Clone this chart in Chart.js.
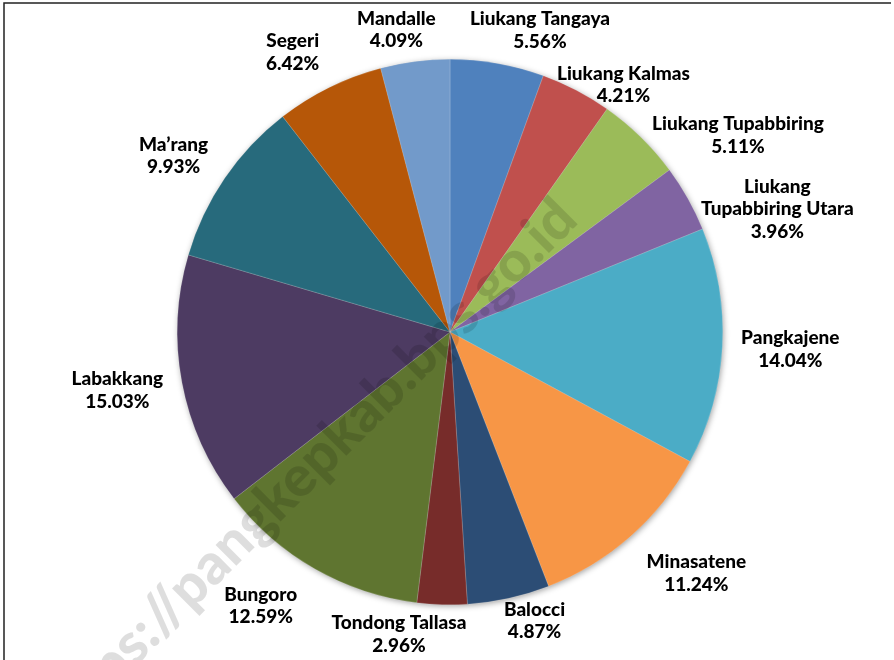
<!DOCTYPE html>
<html>
<head>
<meta charset="utf-8">
<script src="https://cdn.jsdelivr.net/npm/chart.js@4.4.1/dist/chart.umd.min.js"></script>
<style>
  html, body { margin: 0; padding: 0; background: #fff; }
  #wrap { width: 894px; height: 660px; position: relative; }
</style>
</head>
<body>
<div id="wrap"><canvas id="pieChart"></canvas></div>
<script>
// data, clockwise from 12 o'clock
const kecamatan = [
  'Liukang Tangaya',
  'Liukang Kalmas',
  'Liukang Tupabbiring',
  'Liukang\nTupabbiring Utara',
  'Pangkajene',
  'Minasatene',
  'Balocci',
  'Tondong Tallasa',
  'Bungoro',
  'Labakkang',
  'Ma’rang',
  'Segeri',
  'Mandalle'
];
const persen = [5.56, 4.21, 5.11, 3.96, 14.04, 11.24, 4.87, 2.96, 12.59, 15.03, 9.93, 6.42, 4.09];
const watermarkText = 'https://pangkepkab.bps.go.id';

//-----------------------------------------------
const warna = [
  '#4F81BD', '#C0504D', '#9BBB59', '#8064A2', '#4BACC6', '#F79646',
  '#2C4D75', '#772C2A', '#5F7530', '#4D3B62', '#276A7C', '#B65708', '#729ACA'
];
// label nudge: [angle shift in degrees, gap outside the pie in px]
const labelNudge = [
  [6.6, 42], [7.5, 29], [11.3, 76], [8.7, 77], [-0.2, 68], [-4.2, 72],
  [-3.9, 28], [7.9, 34], [5.0, 60], [0.7, 65], [-1.8, 55], [-3.1, 48], [-2.7, 34]
];
const FONT = '900 19px Lato';
const LINE_H = 22.5;

//-----------------------------------------------
const framePlugin = {
  id: 'frame',
  beforeDraw(chart) {
    const c = chart.ctx;
    c.save();
    c.fillStyle = '#fff';
    c.fillRect(0, 0, chart.width, chart.height);
    c.strokeStyle = '#222';
    c.lineWidth = 1.5;
    c.beginPath();
    c.moveTo(4, chart.height);
    c.lineTo(4, 3);
    c.lineTo(891, 3);
    c.stroke();
    c.restore();
  }
};

const shadowPlugin = {
  id: 'pieShadow',
  beforeDatasetsDraw(chart) {
    const arc = chart.getDatasetMeta(0).data[0];
    if (!arc) return;
    const p = arc.getProps(['x', 'y', 'outerRadius'], true);
    const c = chart.ctx;
    c.save();
    c.shadowColor = 'rgba(0,0,0,0.4)';
    c.shadowBlur = 6;
    c.shadowOffsetX = 1;
    c.shadowOffsetY = 1.5;
    c.fillStyle = '#888';
    c.beginPath();
    c.arc(p.x, p.y, p.outerRadius - 0.5, 0, Math.PI * 2);
    c.fill();
    c.restore();
  }
};

const labelPlugin = {
  id: 'outsideLabels',
  afterDatasetsDraw(chart) {
    const c = chart.ctx;
    const meta = chart.getDatasetMeta(0);
    c.save();
    c.font = FONT;
    c.fillStyle = '#000';
    c.textAlign = 'center';
    c.textBaseline = 'middle';
    meta.data.forEach(function(arc, i) {
      const p = arc.getProps(['x', 'y', 'startAngle', 'endAngle', 'outerRadius'], true);
      const a = (p.startAngle + p.endAngle) / 2 + labelNudge[i][0] * Math.PI / 180;
      const d = p.outerRadius + labelNudge[i][1];
      const lx = p.x + Math.cos(a) * d;
      const ly = p.y + Math.sin(a) * d;
      const lines = kecamatan[i].split('\n');
      lines.push(persen[i].toFixed(2) + '%');
      const top = ly - (lines.length - 1) * LINE_H / 2;
      lines.forEach(function(t, k) {
        c.fillText(t, lx, top + k * LINE_H);
      });
    });
    c.restore();
  }
};

const watermarkPlugin = {
  id: 'watermark',
  afterDraw(chart) {
    const c = chart.ctx;
    c.save();
    c.translate(580, 222);
    c.rotate(-45 * Math.PI / 180);
    c.font = '900 57px Lato';
    c.fillStyle = 'rgba(0,0,0,0.13)';
    c.textAlign = 'right';
    c.textBaseline = 'alphabetic';
    c.fillText(watermarkText, 0, 0);
    c.restore();
  }
};

//-----------------------------------------------
var ctx = document.getElementById('pieChart').getContext('2d');
var pieChart = new Chart(ctx, {
  type: 'pie',
  data: {
    labels: kecamatan,
    datasets: [{
      data: persen,
      backgroundColor: warna,
      borderColor: 'rgba(255,255,255,0.35)',
      borderWidth: 0.5
    }]
  },
  options: {
    responsive: true,
    maintainAspectRatio: false,
    animation: false,
    events: [],
    layout: {
      padding: { left: 177, right: 171, top: 59, bottom: 55 }
    },
    plugins: {
      legend: { display: false },
      tooltip: { enabled: false }
    }
  },
  plugins: [framePlugin, shadowPlugin, labelPlugin, watermarkPlugin]
});
</script>
</body>
</html>
